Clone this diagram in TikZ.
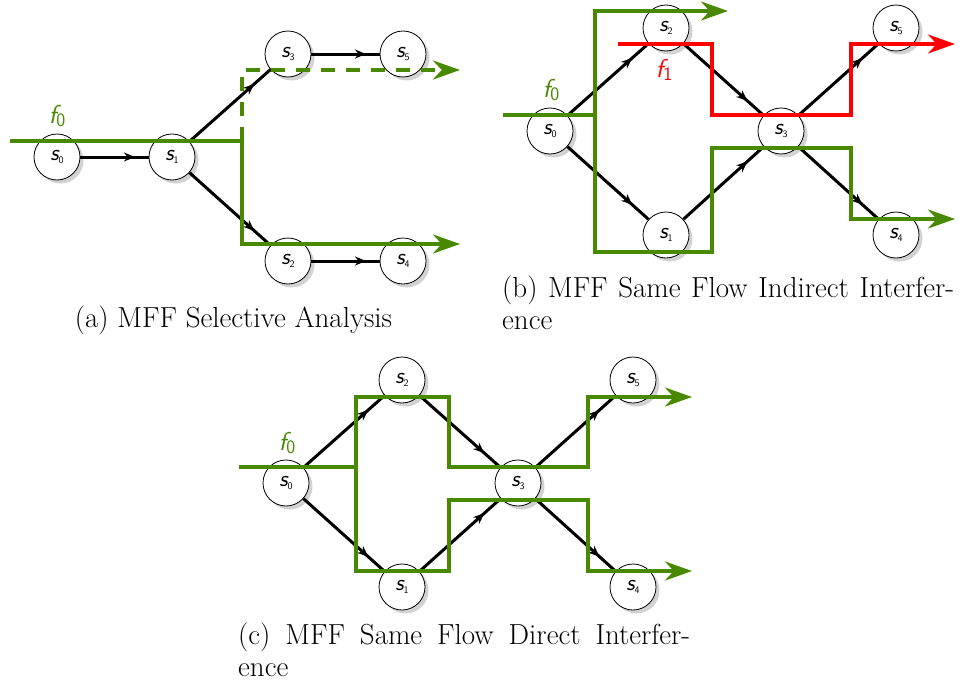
\documentclass[tikz,border=0pt]{standalone}
\usepackage{fontspec}
\usetikzlibrary{arrows.meta,shadows,decorations.markings}
\definecolor{flowgreen}{RGB}{72,137,0}
\definecolor{flowred}{RGB}{255,0,0}
\newcommand\stn[1]{s\raisebox{-3pt}{\fontsize{10}{10}\selectfont\upshape #1}}
\newcommand\flw[1]{f\raisebox{-3pt}{\fontsize{19}{19}\selectfont\upshape #1}}
\tikzset{
  sw/.style={circle,draw=black,line width=0.8pt,fill=white,minimum size=46pt,inner sep=0pt,
    drop shadow={shadow xshift=3.5pt,shadow yshift=-3.5pt,fill=black!35},
    font=\fontsize{23}{23}\sffamily\itshape},
  link/.style={line width=3pt,postaction={decorate},
    decoration={markings,mark=at position 0.8 with {\arrow{Stealth[length=11pt,width=9pt]}}}},
  gflow/.style={draw=flowgreen,line width=3.8pt},
  rflow/.style={draw=flowred,line width=3.8pt},
  flowtip/.style={-{Stealth[length=27pt,width=19pt]}},
  flowtips/.style={{Stealth[length=27pt,width=19pt]}-{Stealth[length=27pt,width=19pt]}},
  flab/.style={font=\fontsize{26}{26}\sffamily\itshape,inner sep=0pt},
  captext/.style={font=\rmfamily\fontsize{29}{32.5}\selectfont,inner sep=0pt},
}
\begin{document}
\begin{tikzpicture}[x=1pt,y=-1pt]
\useasboundingbox (0,0) rectangle (959,688);
% ---------------- panel (a)
\node[sw] (a0) at (57,157) {\stn{0}};
\node[sw] (a1) at (172,157) {\stn{1}};
\node[sw] (a3) at (288,54) {\stn{3}};
\node[sw] (a5) at (403,54) {\stn{5}};
\node[sw] (a2) at (288,261) {\stn{2}};
\node[sw] (a4) at (403,261) {\stn{4}};
\draw[link] (a0) -- (a1);
\draw[link] (a1) -- (a3);
\draw[link] (a1) -- (a2);
\draw[link] (a3) -- (a5);
\draw[link] (a2) -- (a4);
\coordinate (ga0) at (10,141);
\coordinate (ga1) at (242,141);
\coordinate (ga2) at (242,244);
\coordinate (ga3) at (460,244);
\coordinate (ga4) at (242,70);
\coordinate (ga5) at (460,70);
\draw[gflow,flowtip] (ga0) -- (ga1) -- (ga2) -- (ga3);
\draw[gflow,flowtip,dash pattern=on 14pt off 11pt] (ga1) -- (ga4) -- (ga5);
\node[flab,text=flowgreen] (fa) at (57,116) {\flw{0}};
\node[captext,anchor=base] (capa) at (233.5,327) {(a) MFF Selective Analysis};
% ---------------- panel (b)
\node[sw] (b0) at (550,131) {\stn{0}};
\node[sw] (b2) at (666,28) {\stn{2}};
\node[sw] (b1) at (666,235) {\stn{1}};
\node[sw] (b3) at (781,131) {\stn{3}};
\node[sw] (b5) at (896,28) {\stn{5}};
\node[sw] (b4) at (896,235) {\stn{4}};
\draw[link] (b0) -- (b2);
\draw[link] (b0) -- (b1);
\draw[link] (b2) -- (b3);
\draw[link] (b1) -- (b3);
\draw[link] (b3) -- (b5);
\draw[link] (b3) -- (b4);
\coordinate (gb0) at (503,115);
\coordinate (gb1) at (595,115);
\coordinate (gb2) at (728,11);
\coordinate (gb3) at (955,219);
\coordinate (rb0) at (618,44);
\coordinate (rb1) at (955,44);
\draw[gflow] (gb0) -- (gb1);
\draw[gflow,flowtips] (gb2) -- (595,11) -- (595,252) -- (712,252) -- (712,148)
  -- (851,148) -- (851,219) -- (gb3);
\draw[rflow,flowtip] (rb0) -- (712,44) -- (712,115) -- (851,115) -- (851,44) -- (rb1);
\node[flab,text=flowgreen] (fb0) at (551,90) {\flw{0}};
\node[flab,text=flowred] (fb1) at (664,70) {\flw{1}};
\node[captext,anchor=base west,text width=452pt,align=left] (capb) at (502,297)
  {\makebox[452pt][l]{(b) \hfill MFF \hfill Same \hfill Flow \hfill Indirect \hfill Interfer-}\\ence};
% ---------------- panel (c)
\node[sw] (c0) at (286,483) {\stn{0}};
\node[sw] (c2) at (402,380) {\stn{2}};
\node[sw] (c1) at (402,587) {\stn{1}};
\node[sw] (c3) at (518,483) {\stn{3}};
\node[sw] (c5) at (633,380) {\stn{5}};
\node[sw] (c4) at (633,587) {\stn{4}};
\draw[link] (c0) -- (c2);
\draw[link] (c0) -- (c1);
\draw[link] (c2) -- (c3);
\draw[link] (c1) -- (c3);
\draw[link] (c3) -- (c5);
\draw[link] (c3) -- (c4);
\coordinate (gc0) at (239,467);
\coordinate (gc1) at (356,467);
\coordinate (gc2) at (692,397);
\coordinate (gc3) at (692,571);
\draw[gflow] (gc0) -- (gc1);
\draw[gflow,flowtips] (gc2) -- (588,397) -- (588,467) -- (449,467) -- (449,397)
  -- (356,397) -- (356,571) -- (449,571) -- (449,500) -- (588,500) -- (588,571) -- (gc3);
\node[flab,text=flowgreen] (fc0) at (287,443) {\flw{0}};
\node[captext,anchor=base west,text width=452pt,align=left] (capc) at (238,644)
  {\makebox[452pt][l]{(c) \hfill MFF \hfill Same \hfill Flow \hfill Direct \hfill Interfer-}\\ence};
\end{tikzpicture}
\end{document}
